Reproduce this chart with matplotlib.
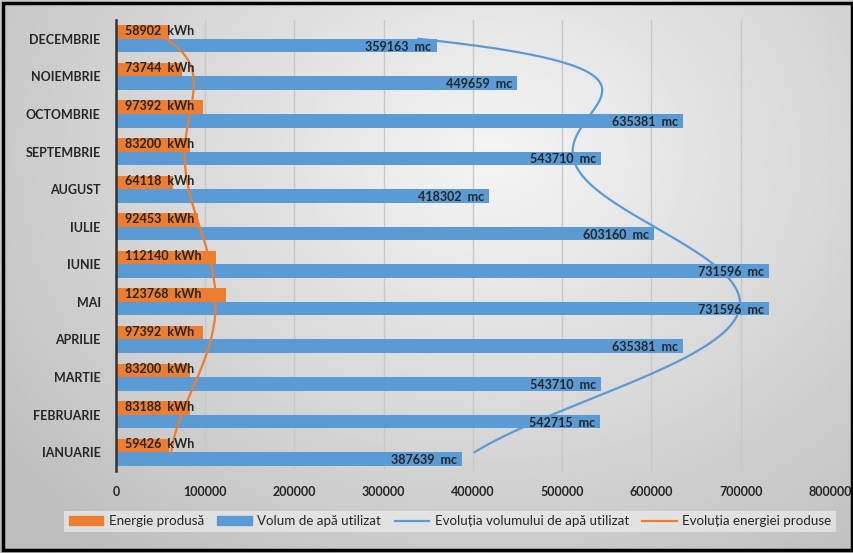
import numpy as np
import matplotlib
matplotlib.use('Agg')
import matplotlib.pyplot as plt
from matplotlib.patches import Patch, Rectangle
from matplotlib.lines import Line2D

plt.rcParams['font.family'] = ['Lato', 'DejaVu Sans']

# Monthly data, January first
months = ['IANUARIE', 'FEBRUARIE', 'MARTIE', 'APRILIE', 'MAI', 'IUNIE',
          'IULIE', 'AUGUST', 'SEPTEMBRIE', 'OCTOMBRIE', 'NOIEMBRIE', 'DECEMBRIE']
energy = [59426, 83188, 83200, 97392, 123768, 112140,
          92453, 64118, 83200, 97392, 73744, 58902]  # kWh
water = [387639, 542715, 543710, 635381, 731596, 731596,
         603160, 418302, 543710, 635381, 449659, 359163]  # mc
xTicks = [0, 100000, 200000, 300000, 400000, 500000, 600000, 700000, 800000]

orange = '#ED7D31'
blue = '#5B9BD5'
textColor = '#262626'

fig = plt.figure(figsize=(8.54, 5.53), dpi=100)

# Grey gradient background, lighter in the middle
bg = fig.add_axes([0, 0, 1, 1], zorder=-10)
gx, gy = np.meshgrid(np.linspace(0, 1, 400), np.linspace(0, 1, 260))
dist = np.sqrt(((gx - 0.58) / 0.75) ** 2 + ((gy - 0.72) / 0.95) ** 2)
shade = np.clip(0.96 - 0.22 * dist, 0.74, 0.96)
bg.imshow(shade, cmap='gray', vmin=0, vmax=1, extent=[0, 1, 0, 1],
          origin='lower', aspect='auto')
bg.axis('off')

ax = fig.add_axes([0.1358, 0.1483, 0.836, 0.8155])
ax.patch.set_alpha(0)

pos = np.arange(len(months))
h = 0.36
ax.barh(pos + h / 2, energy, h, color=orange, zorder=3)
ax.barh(pos - h / 2, water, h, color=blue, zorder=3)

# Data labels
for i in range(len(months)):
    ax.text(10000, pos[i] + h / 2 + 0.03, str(energy[i]) + '  kWh', ha='left', va='center',
            fontsize=9, fontweight='bold', color=textColor, zorder=5)
    ax.text(water[i] - 6000, pos[i] - h / 2 - 0.03, str(water[i]) + '  mc', ha='right', va='center',
            fontsize=9, fontweight='bold', color=textColor, zorder=5)

# Polynomial trendlines (as in Excel, x = 1..12)
xs = np.arange(1, len(months) + 1)
fine = np.linspace(1, len(months), 300)
waterFit = np.polyval(np.polyfit(xs, water, 6), fine)
energyFit = np.polyval(np.polyfit(xs, energy, 6), fine)
ax.plot(waterFit, fine - 1, color=blue, lw=1.6, zorder=4)
ax.plot(energyFit, fine - 1, color=orange, lw=1.6, zorder=4)

ax.set_ylim(-0.5, len(months) - 0.5)
ax.set_xlim(0, 800000)
ax.set_yticks(pos)
ax.set_yticklabels(months, fontsize=9, fontweight='bold', color=textColor)
ax.set_xticks(xTicks)
ax.set_xticklabels([str(t) for t in xTicks], fontsize=9, fontweight='bold', color=textColor)
ax.tick_params(length=0)
ax.tick_params(axis='y', pad=11)
ax.tick_params(axis='x', pad=11)
ax.grid(axis='x', color='#c8c8c8', lw=1, zorder=0)
for s in ['top', 'right', 'bottom']:
    ax.spines[s].set_visible(False)
ax.spines['left'].set_color('#333333')
ax.spines['left'].set_linewidth(1.8)
ax.spines['left'].set_zorder(6)

handles = [Patch(color=orange), Patch(color=blue),
           Line2D([], [], color=blue, lw=1.6), Line2D([], [], color=orange, lw=1.6)]
labels = ['Energie produsă', 'Volum de apă utilizat',
          'Evoluția volumului de apă utilizat', 'Evoluția energiei produse']
leg = fig.legend(handles, labels, loc='center', bbox_to_anchor=(0.527, 0.057), ncol=4,
                 fontsize=9.6, frameon=True, fancybox=False, handlelength=2.6,
                 handletextpad=0.4, columnspacing=1.0, borderpad=0.35)
leg.get_frame().set_facecolor('#ececec')
leg.get_frame().set_alpha(0.7)
leg.get_frame().set_edgecolor('none')
for t in leg.get_texts():
    t.set_color(textColor)

# Black frame around the whole picture
fig.patches.append(Rectangle((0.004, 0.006), 0.994, 0.988, transform=fig.transFigure,
                             fill=False, edgecolor='black', lw=2.5))

fig.savefig('out.png', dpi=100)
